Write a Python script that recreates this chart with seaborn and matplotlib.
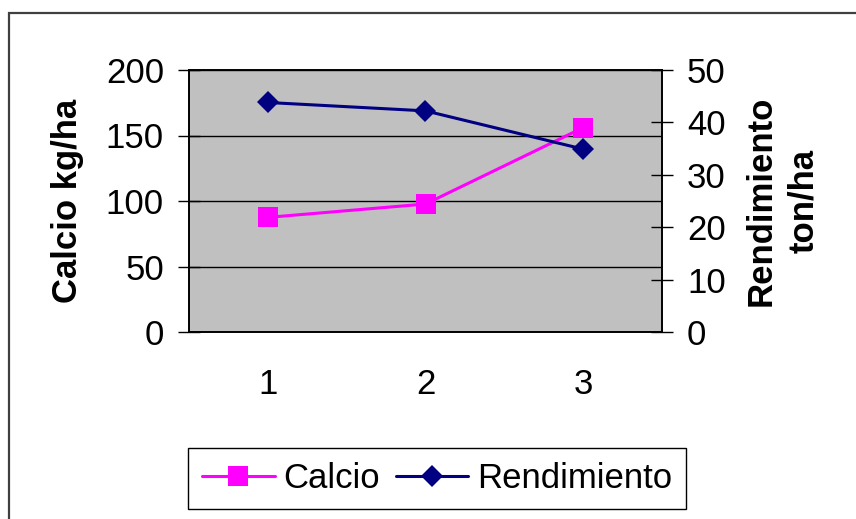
import matplotlib
matplotlib.use("Agg")
import matplotlib.pyplot as plt
import matplotlib.patches as mpatches
from matplotlib.ticker import FixedLocator, NullFormatter
import seaborn as sns
import pandas as pd

# Data
categorias = ["1", "2", "3"]
calcio = [87.5, 97.7, 156.0]          # kg/ha
rendimiento = [43.8, 42.2, 34.9]      # ton/ha

sns.set_theme(style="white")
plt.rcParams["font.family"] = ["Liberation Sans", "DejaVu Sans"]

FS = 25
fig = plt.figure(figsize=(8.56, 5.19), dpi=100)
fig.patch.set_facecolor("white")

ax = fig.add_axes([189 / 856, 1 - 332 / 519, (662 - 189) / 856, (332 - 70) / 519])
ax.set_facecolor("#C0C0C0")
ax2 = ax.twinx()

df = pd.DataFrame({"Muestra": categorias, "Calcio": calcio, "Rendimiento": rendimiento})

sns.lineplot(data=df, x="Muestra", y="Calcio", ax=ax, color="#FF00FF",
             marker="s", markersize=14, markeredgewidth=0, linewidth=2.2,
             sort=False, label="Calcio", legend=False, zorder=3)
sns.lineplot(data=df, x="Muestra", y="Rendimiento", ax=ax2, color="#000080",
             marker="D", markersize=11, markeredgewidth=0, linewidth=2.2,
             sort=False, label="Rendimiento", legend=False, zorder=3)

# Axes limits and ticks
ax.set_xlim(-0.5, 2.5)
ax.set_ylim(0, 200)
ax2.set_ylim(0, 50)
ax.set_yticks([0, 50, 100, 150, 200])
ax2.set_yticks([0, 10, 20, 30, 40, 50])

ax.xaxis.set_major_locator(FixedLocator([-0.5, 0.5, 1.5, 2.5]))
ax.xaxis.set_major_formatter(NullFormatter())
ax.xaxis.set_minor_locator(FixedLocator([0, 1, 2]))
ax.set_xticklabels(categorias, minor=True)
ax.tick_params(axis="x", which="major", direction="inout", length=20, width=1, color="black")
ax.tick_params(axis="x", which="minor", length=0, pad=26, labelsize=FS, labelcolor="black")
ax.tick_params(axis="y", direction="inout", length=16, width=1, color="black",
               labelsize=FS, pad=10, labelcolor="black", left=True)
ax2.tick_params(axis="y", direction="inout", length=16, width=1, color="black",
                labelsize=FS, pad=10, labelcolor="black", right=True)

ax.grid(axis="y", color="black", linewidth=1)
ax.grid(axis="x", visible=False)
ax.set_axisbelow(True)
ax2.grid(False)
ax.set_zorder(1)
ax2.set_zorder(2)
ax2.patch.set_visible(False)

for a in (ax, ax2):
    for s in a.spines.values():
        s.set_color("black")
        s.set_linewidth(1.2)
        s.set_visible(True)

ax.set_xlabel("")
ax.set_ylabel("Calcio kg/ha", fontsize=FS, fontweight="bold", color="black")
ax2.set_ylabel("Rendimiento\nton/ha", fontsize=FS, fontweight="bold", color="black",
               rotation=90, linespacing=1.35)
ax.yaxis.set_label_coords(-0.222, 0.5)
ax2.yaxis.set_label_coords(1.175, 0.5)

# Legend
handles = [ax.get_lines()[0], ax2.get_lines()[0]]
leg = fig.legend(handles, ["Calcio", "Rendimiento"], loc="center",
                 bbox_to_anchor=(437 / 856, 1 - 478.5 / 519), ncol=2,
                 fontsize=FS, frameon=True, fancybox=False, framealpha=1,
                 edgecolor="black", handlelength=2.1, handletextpad=0.25,
                 columnspacing=0.45, borderpad=0.4, borderaxespad=0)
leg.get_frame().set_linewidth(1.0)
for t in leg.get_texts():
    t.set_color("black")

# Chart area border
fig.patches.append(mpatches.Rectangle((9 / 856, -0.1), 1.2, 1 - 13 / 519 + 0.1,
                                      transform=fig.transFigure, facecolor="none",
                                      edgecolor="#404040", linewidth=1.6))

fig.savefig("out.png", dpi=100)
